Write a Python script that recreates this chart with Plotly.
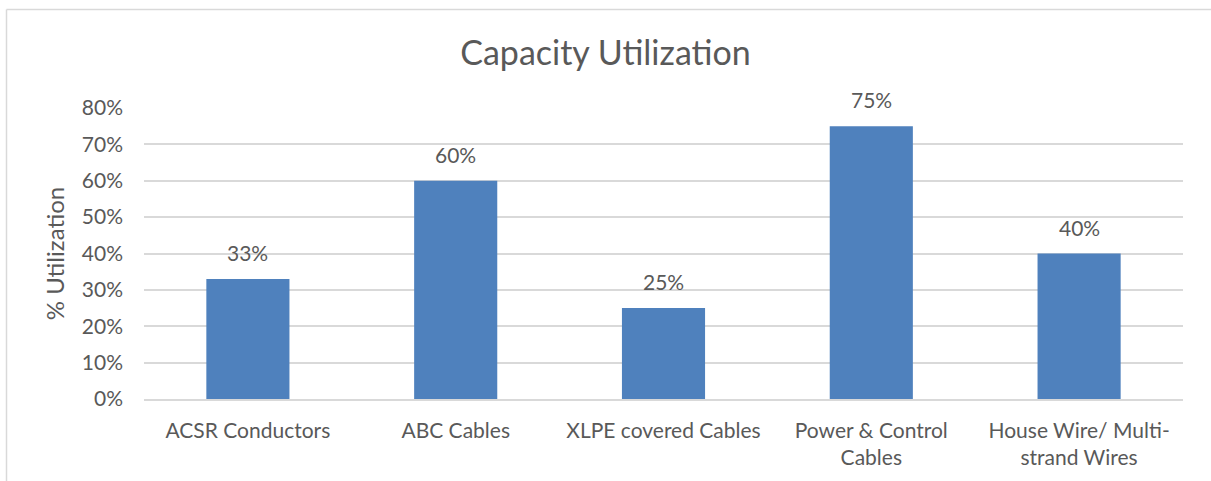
import plotly.graph_objects as go

categories = ["ACSR Conductors", "ABC Cables", "XLPE covered Cables",
              "Power & Control<br>Cables", "House Wire/ Multi-<br>strand Wires"]
utilization = [0.33, 0.60, 0.25, 0.75, 0.40]
tick_vals = [0, 0.1, 0.2, 0.3, 0.4, 0.5, 0.6, 0.7, 0.8]
tick_text = ["0%", "10%", "20%", "30%", "40%", "50%", "60%", "70%", "80%"]

FONT = "Lato"
TXT = "#595959"
GRID = "#D9D9D9"

fig = go.Figure()
fig.add_trace(go.Bar(
    x=categories, y=utilization,
    marker=dict(color="#4F81BD", line=dict(width=0)),
    width=0.4,
))

for c, v in zip(categories, utilization):
    fig.add_annotation(x=c, y=v, text=f"{round(v*100)}%", showarrow=False,
                       yanchor="bottom", yshift=12,
                       font=dict(family=FONT, size=21, color=TXT))

# chart border (left and top visible)
x0 = (6.5 - 144) / 1039
ytop = (399 - 9.5) / 291
fig.add_shape(type="line", xref="paper", yref="paper", x0=x0, x1=x0, y0=-0.5, y1=ytop,
              line=dict(color=GRID, width=1.5))
fig.add_shape(type="line", xref="paper", yref="paper", x0=x0, x1=1.1, y0=ytop, y1=ytop,
              line=dict(color=GRID, width=1.5))

fig.update_layout(
    width=1211, height=481,
    margin=dict(l=144, r=28, t=108, b=82),
    paper_bgcolor="white", plot_bgcolor="white",
    showlegend=False,
    title=dict(text="Capacity Utilization", x=0.5, xanchor="center",
               y=1 - 53 / 481, yanchor="middle",
               font=dict(family=FONT, size=34, color=TXT)),
    font=dict(family=FONT, size=21, color=TXT),
    xaxis=dict(showgrid=False, showline=True, linecolor=GRID, linewidth=1.5,
               ticks="", ticklabelstandoff=12,
               tickfont=dict(family=FONT, size=21, color=TXT)),
    yaxis=dict(range=[0, 0.8], tickvals=tick_vals, ticktext=tick_text,
               showgrid=True, gridcolor=GRID, gridwidth=1.5,
               zeroline=False, showline=False, ticks="", ticklen=0,
               ticklabelstandoff=20,
               tickfont=dict(family=FONT, size=21, color=TXT),
               title=dict(text="% Utilization", standoff=10,
                          font=dict(family=FONT, size=24, color=TXT))),
    bargap=0.6,
)

fig.write_html("out.html", config={"displayModeBar": False},
               post_script="document.body.style.margin='0';")
